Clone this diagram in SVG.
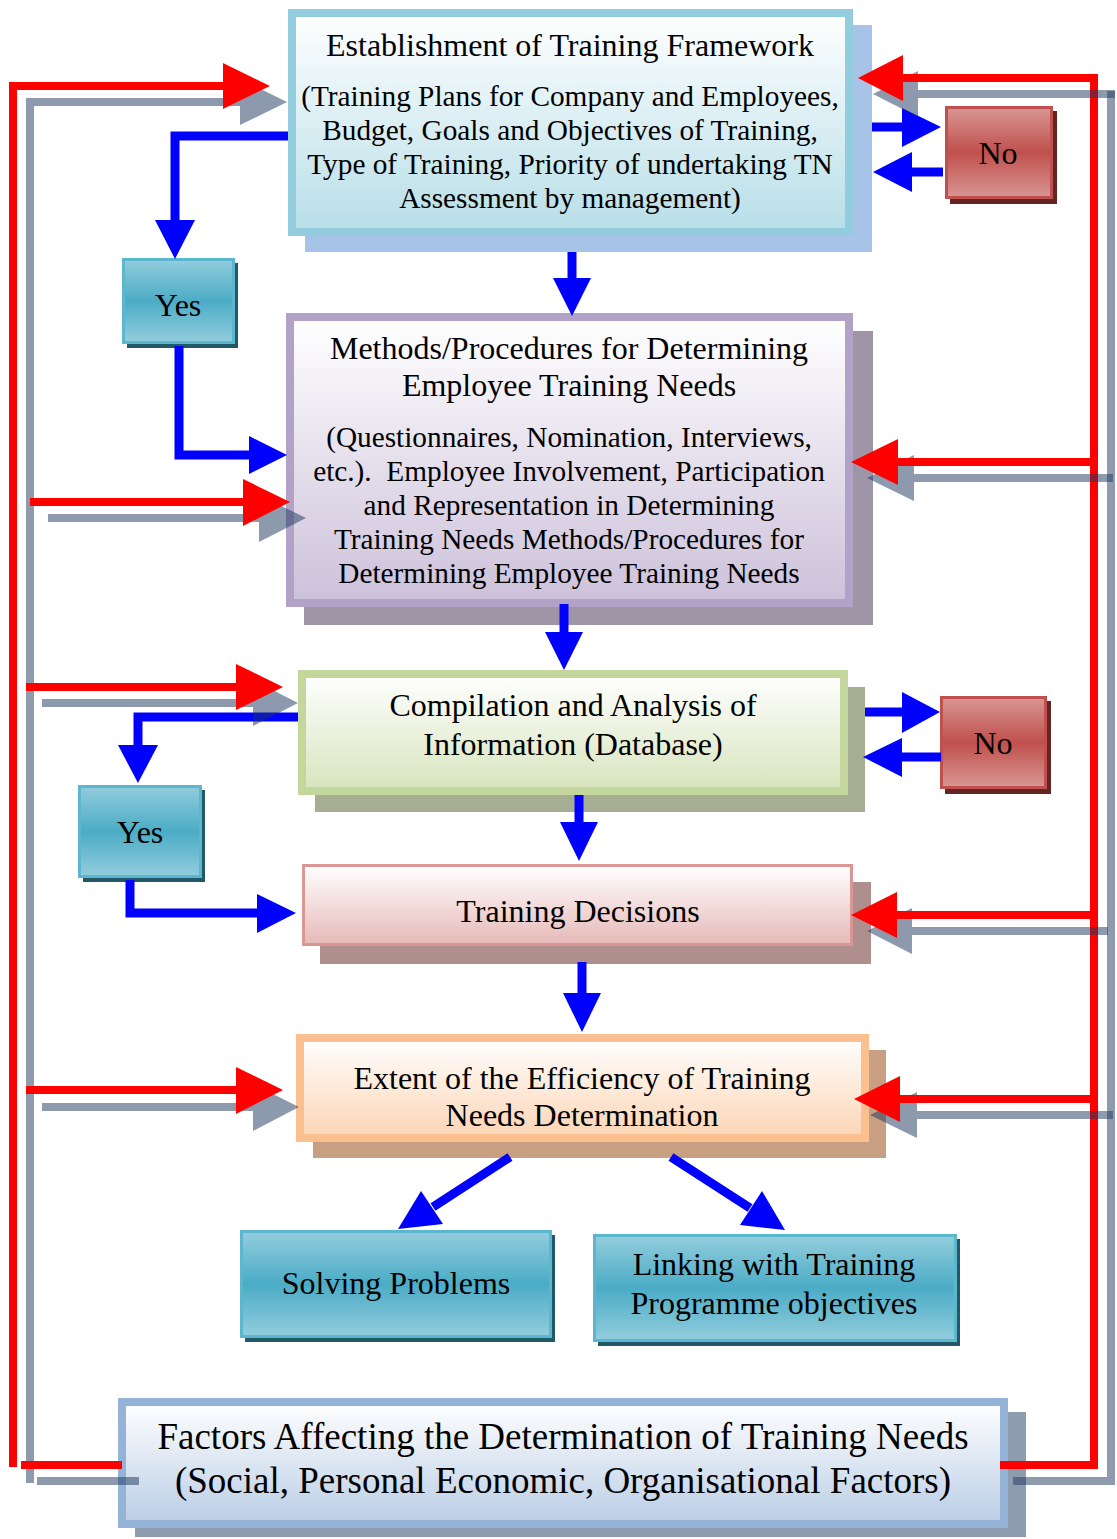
<svg xmlns="http://www.w3.org/2000/svg" width="1117" height="1539" viewBox="0 0 1117 1539">
  <defs>
    <linearGradient id="gTeal" x1="0" y1="0" x2="0" y2="1">
      <stop offset="0" stop-color="#FFFFFF"/>
      <stop offset="1" stop-color="#B7DEE8"/>
    </linearGradient>
    <linearGradient id="gPurple" x1="0" y1="0" x2="0" y2="1">
      <stop offset="0" stop-color="#FFFFFF"/>
      <stop offset="1" stop-color="#CCC1DA"/>
    </linearGradient>
    <linearGradient id="gGreen" x1="0" y1="0" x2="0" y2="1">
      <stop offset="0" stop-color="#FFFFFF"/>
      <stop offset="1" stop-color="#D7E4BD"/>
    </linearGradient>
    <linearGradient id="gPink" x1="0" y1="0" x2="0" y2="1">
      <stop offset="0" stop-color="#FFFFFF"/>
      <stop offset="1" stop-color="#E6B9B8"/>
    </linearGradient>
    <linearGradient id="gPeach" x1="0" y1="0" x2="0" y2="1">
      <stop offset="0" stop-color="#FFFFFF"/>
      <stop offset="1" stop-color="#FBD5B5"/>
    </linearGradient>
    <linearGradient id="gBlue" x1="0" y1="0" x2="0" y2="1">
      <stop offset="0" stop-color="#FFFFFF"/>
      <stop offset="1" stop-color="#B9CDE5"/>
    </linearGradient>
    <linearGradient id="gAqua" x1="0" y1="0" x2="0" y2="1">
      <stop offset="0" stop-color="#93CDDD"/>
      <stop offset="0.5" stop-color="#4BACC6"/>
      <stop offset="1" stop-color="#93CDDD"/>
    </linearGradient>
    <linearGradient id="gRed" x1="0" y1="0" x2="0" y2="1">
      <stop offset="0" stop-color="#D99694"/>
      <stop offset="0.5" stop-color="#C0504D"/>
      <stop offset="1" stop-color="#D99694"/>
    </linearGradient>
  </defs>
  <style>
    text { font-family: "Liberation Serif", "Times New Roman", serif; fill: #000; text-anchor: middle; }
    .t32 { font-size: 32px; }
    .t29 { font-size: 29.3px; }
    .t37 { font-size: 37px; }
    .aqua { fill: url(#gAqua); stroke: #5BB6CE; stroke-width: 3; }
    .aquaSh { fill: #215968; }
    .red { fill: url(#gRed); stroke: #C0504D; stroke-width: 3; }
    .redSh { fill: #632523; }
    .flow { fill: none; stroke: #0000FF; stroke-width: 9; stroke-linejoin: miter; }
    .flowHead { fill: #0000FF; }
    .fb { fill: none; stroke: #FF0000; stroke-width: 8; stroke-linejoin: miter; }
    .fbHead { fill: #FF0000; }
    .sh { opacity: 0.5; }
    .sh path { fill: none; stroke: #1D375F; stroke-width: 8; }
    .sh polygon { fill: #1D375F; }
  </style>

  <rect width="1117" height="1539" fill="#FFFFFF"/>

  <!-- Main process boxes -->
  <g id="framework">
    <rect x="305" y="25" width="567" height="227" fill="#A8C3E8"/>
    <rect x="292" y="13" width="557" height="219" fill="url(#gTeal)" stroke="#93CDDD" stroke-width="8"/>
    <text class="t32" x="570" y="56">Establishment of Training Framework</text>
    <text class="t29" x="570" y="106">(Training Plans for Company and Employees,</text>
    <text class="t29" x="570" y="140">Budget, Goals and Objectives of Training,</text>
    <text class="t29" x="570" y="174">Type of Training, Priority of undertaking TN</text>
    <text class="t29" x="570" y="208">Assessment by management)</text>
  </g>

  <g id="methods">
    <rect x="304" y="331" width="569" height="294" fill="#9E96A6"/>
    <rect x="290" y="317" width="559" height="286" fill="url(#gPurple)" stroke="#B3A2C7" stroke-width="8"/>
    <text class="t32" x="569" y="359">Methods/Procedures for Determining</text>
    <text class="t32" x="569" y="396">Employee Training Needs</text>
    <text class="t29" x="569" y="447">(Questionnaires, Nomination, Interviews,</text>
    <text class="t29" x="569" y="481" xml:space="preserve">etc.).  Employee Involvement, Participation</text>
    <text class="t29" x="569" y="515">and Representation in Determining</text>
    <text class="t29" x="569" y="549">Training Needs Methods/Procedures for</text>
    <text class="t29" x="569" y="583">Determining Employee Training Needs</text>
  </g>

  <g id="compilation">
    <rect x="315" y="687" width="550" height="125" fill="#A5AE93"/>
    <rect x="302" y="674" width="542" height="117" fill="url(#gGreen)" stroke="#C3D69B" stroke-width="8"/>
    <text class="t32" x="573" y="716">Compilation and Analysis of</text>
    <text class="t32" x="573" y="755">Information (Database)</text>
  </g>

  <g id="decisions">
    <rect x="320" y="882" width="551" height="82" fill="#AF8F8E"/>
    <rect x="303.5" y="865.5" width="548" height="79" fill="url(#gPink)" stroke="#D99694" stroke-width="3"/>
    <text class="t32" x="578" y="922">Training Decisions</text>
  </g>

  <g id="efficiency">
    <rect x="313" y="1050" width="573" height="108" fill="#C89F80"/>
    <rect x="300" y="1038" width="565" height="100" fill="url(#gPeach)" stroke="#FAC090" stroke-width="8"/>
    <text class="t32" x="582" y="1089">Extent of the Efficiency of Training</text>
    <text class="t32" x="582" y="1126">Needs Determination</text>
  </g>

  <g id="factors">
    <rect x="135" y="1412" width="891" height="125" fill="#8E9CB0"/>
    <rect x="122" y="1402" width="882" height="122" fill="url(#gBlue)" stroke="#95B3D7" stroke-width="8"/>
    <text class="t37" x="563" y="1449">Factors Affecting the Determination of Training Needs</text>
    <text class="t37" x="563" y="1493">(Social, Personal Economic, Organisational Factors)</text>
  </g>

  <!-- Decision boxes -->
  <g id="yes-framework">
    <rect class="aquaSh" x="127" y="263" width="111" height="85"/>
    <rect class="aqua" x="123.5" y="259.5" width="110" height="83"/>
    <text class="t32" x="178" y="316">Yes</text>
  </g>
  <g id="no-framework">
    <rect class="redSh" x="950" y="111" width="107" height="93"/>
    <rect class="red" x="946.5" y="107.5" width="105" height="90"/>
    <text class="t32" x="998" y="164">No</text>
  </g>
  <g id="yes-compilation">
    <rect class="aquaSh" x="83" y="790" width="122" height="92"/>
    <rect class="aqua" x="79.5" y="786.5" width="121" height="90"/>
    <text class="t32" x="140" y="843">Yes</text>
  </g>
  <g id="no-compilation">
    <rect class="redSh" x="945" y="701" width="106" height="93"/>
    <rect class="red" x="941.5" y="697.5" width="104" height="90"/>
    <text class="t32" x="993" y="754">No</text>
  </g>

  <!-- Outcomes -->
  <g id="solving">
    <rect class="aquaSh" x="245" y="1235" width="310" height="107"/>
    <rect class="aqua" x="241.5" y="1231.5" width="309" height="105"/>
    <text class="t32" x="396" y="1294">Solving Problems</text>
  </g>
  <g id="linking">
    <rect class="aquaSh" x="598" y="1239" width="362" height="107"/>
    <rect class="aqua" x="594.5" y="1235.5" width="361" height="105"/>
    <text class="t32" x="774" y="1275">Linking with Training</text>
    <text class="t32" x="774" y="1314">Programme objectives</text>
  </g>

  <g id="connectors">
    <!-- main flow (blue) -->
    <g id="flow">
      <path class="flow" d="M288,136 H175 V222"/>
      <polygon class="flowHead" points="155,220 175,259 195,220"/>
      <path class="flow" d="M179,346 V455 H251"/>
      <polygon class="flowHead" points="249,436 287,455 249,474"/>
      <path class="flow" d="M572,252 V280"/>
      <polygon class="flowHead" points="553,278 572,316 591,278"/>
      <path class="flow" d="M564,604 V634"/>
      <polygon class="flowHead" points="545,632 564,670 583,632"/>
      <path class="flow" d="M579,795 V824"/>
      <polygon class="flowHead" points="560,822 579,861 598,822"/>
      <path class="flow" d="M582,962 V995"/>
      <polygon class="flowHead" points="563,993 582,1032 601,993"/>
      <path class="flow" d="M298,717 H138 V747"/>
      <polygon class="flowHead" points="118,745 138,783 158,745"/>
      <path class="flow" d="M130,880 V913 H259"/>
      <polygon class="flowHead" points="257,894 296,913 257,933"/>
      <path class="flow" d="M872,127 H904"/>
      <polygon class="flowHead" points="902,108 941,127 902,147"/>
      <path class="flow" d="M943,172 H910"/>
      <polygon class="flowHead" points="912,152 873,172 912,192"/>
      <path class="flow" d="M865,712 H904"/>
      <polygon class="flowHead" points="902,692 940,712 902,733"/>
      <path class="flow" d="M941,757 H900"/>
      <polygon class="flowHead" points="902,738 863,757 902,777"/>
      <path class="flow" d="M510,1157 L433,1207"/>
      <polygon class="flowHead" points="443,1224 398,1229 421,1191"/>
      <path class="flow" d="M671,1157 L750,1208"/>
      <polygon class="flowHead" points="740,1225 785,1230 762,1191"/>
    </g>

    <!-- feedback from the influencing factors (red, with offset shadow) -->
    <g id="feedback">
      <g class="sh">
        <path d="M30,1483 V102 H242"/>
        <polygon points="240,79 287,102 240,125"/>
        <path d="M37,1481 H139"/>
      </g>
      <path class="fb" d="M13,1467 V86 H225"/>
      <polygon class="fbHead" points="223,63 270,86 223,109"/>
      <path class="fb" d="M21,1465 H122"/>

      <g class="sh">
        <path d="M1013,1481 H1111 V91"/>
      </g>
      <path class="fb" d="M1000,1465 H1094 V74"/>

      <g class="sh">
        <path d="M1115,94 H916"/>
        <polygon points="918,71 873,94 918,117"/>
      </g>
      <path class="fb" d="M1098,78 H901"/>
      <polygon class="fbHead" points="903,55 858,78 903,101"/>

      <g class="sh">
        <path d="M1113,478 H912"/>
        <polygon points="914,455 867,478 914,501"/>
      </g>
      <path class="fb" d="M1094,462 H896"/>
      <polygon class="fbHead" points="898,439 851,462 898,485"/>

      <g class="sh">
        <path d="M1108,931 H910"/>
        <polygon points="912,908 867,931 912,954"/>
      </g>
      <path class="fb" d="M1094,915 H895"/>
      <polygon class="fbHead" points="897,892 851,915 897,938"/>

      <g class="sh">
        <path d="M1113,1115 H915"/>
        <polygon points="917,1092 870,1115 917,1138"/>
      </g>
      <path class="fb" d="M1094,1099 H898"/>
      <polygon class="fbHead" points="900,1076 854,1099 900,1122"/>

      <g class="sh">
        <path d="M48,518 H261"/>
        <polygon points="259,495 306,518 259,542"/>
      </g>
      <path class="fb" d="M30,502 H245"/>
      <polygon class="fbHead" points="243,479 290,502 243,526"/>

      <g class="sh">
        <path d="M42,703 H255"/>
        <polygon points="253,680 298,703 253,726"/>
      </g>
      <path class="fb" d="M26,687 H238"/>
      <polygon class="fbHead" points="236,664 283,687 236,710"/>

      <g class="sh">
        <path d="M42,1107 H255"/>
        <polygon points="253,1084 299,1107 253,1131"/>
      </g>
      <path class="fb" d="M26,1090 H238"/>
      <polygon class="fbHead" points="236,1067 283,1090 236,1114"/>
    </g>
  </g>
</svg>
